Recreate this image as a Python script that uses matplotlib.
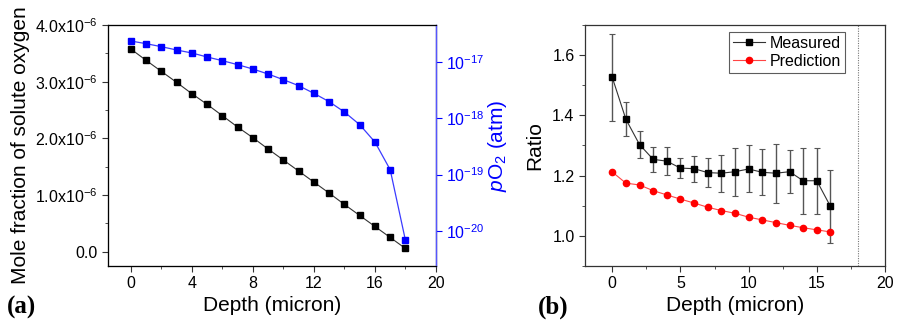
import matplotlib
matplotlib.use("Agg")
import matplotlib.pyplot as plt
from matplotlib.ticker import FixedLocator, FixedFormatter, NullLocator, MultipleLocator
import numpy as np

plt.rcParams['font.family'] = ['Liberation Sans', 'DejaVu Sans']
plt.rcParams['mathtext.fontset'] = 'custom'
plt.rcParams['mathtext.rm'] = 'Liberation Sans'
plt.rcParams['mathtext.it'] = 'Liberation Sans:italic'

# ---- data panel (a)
depth_a = list(range(0, 19))
mole_frac = [3.576, 3.376, 3.182, 2.988, 2.788, 2.600, 2.400, 2.200, 2.012, 1.812,
             1.618, 1.424, 1.229, 1.035, 0.835, 0.641, 0.447, 0.253, 0.059]  # x1e-6
log_po2 = [-16.634, -16.681, -16.734, -16.793, -16.846, -16.917, -16.982, -17.053,
           -17.130, -17.219, -17.319, -17.425, -17.561, -17.709, -17.892, -18.116,
           -18.424, -18.914, -20.166]
left_yticks = [0.0, 1.0e-6, 2.0e-6, 3.0e-6, 4.0e-6]
left_yticklabels = ['0.0', r'1.0x10$^{-6}$', r'2.0x10$^{-6}$', r'3.0x10$^{-6}$', r'4.0x10$^{-6}$']
right_yticks = [1e-20, 1e-19, 1e-18, 1e-17]
right_yticklabels = [r'10$^{-20}$', r'10$^{-19}$', r'10$^{-18}$', r'10$^{-17}$']
xticks_a = [0, 4, 8, 12, 16, 20]

# ---- data panel (b)
depth_b = list(range(0, 17))
measured = [1.526, 1.387, 1.303, 1.254, 1.248, 1.225, 1.223, 1.210, 1.208, 1.213,
            1.222, 1.211, 1.208, 1.213, 1.183, 1.183, 1.098]
measured_err = [0.144, 0.056, 0.045, 0.041, 0.047, 0.034, 0.043, 0.047, 0.061, 0.079,
                0.078, 0.076, 0.098, 0.071, 0.110, 0.110, 0.122]
prediction = [1.212, 1.175, 1.169, 1.150, 1.136, 1.122, 1.109, 1.095, 1.084, 1.075,
              1.062, 1.053, 1.044, 1.035, 1.027, 1.020, 1.013]
xticks_b = [0, 5, 10, 15, 20]
yticks_b = [1.0, 1.2, 1.4, 1.6]
boundary_depth = 18

fig = plt.figure(figsize=(9, 3.23), dpi=100)

tick_fs = 11.5
label_fs = 15

# ---------------- panel (a)
ax1 = fig.add_axes([0.12, 0.1765, 0.3644, 0.7461])
mf = np.array(mole_frac) * 1e-6
ax1.plot(depth_a, mf, color='#333333', lw=0.8, marker='s', ms=4.2,
         mfc='black', mec='black', zorder=3)
ax1.set_xlim(-1.5, 20)
ax1.set_ylim(-0.25e-6, 4.0e-6)
ax1.yaxis.set_major_locator(FixedLocator(left_yticks))
ax1.yaxis.set_major_formatter(FixedFormatter(left_yticklabels))
ax1.yaxis.set_minor_locator(MultipleLocator(0.5e-6))
ax1.xaxis.set_major_locator(FixedLocator(xticks_a))
ax1.xaxis.set_minor_locator(MultipleLocator(2))
ax1.tick_params(which='both', direction='out', labelsize=tick_fs, color='#333333')
ax1.tick_params(which='major', length=4)
ax1.tick_params(which='minor', length=2.5)
ax1.tick_params(axis='y', which='both', right=False)
ax1.set_xlabel('Depth (micron)', fontsize=label_fs, labelpad=3)
ax1.set_ylabel('Mole fraction of solute oxygen', fontsize=label_fs, labelpad=4)
for s in ax1.spines.values():
    s.set_color('#333333')
    s.set_linewidth(0.9)

ax2 = ax1.twinx()
po2 = 10.0 ** np.array(log_po2)
ax2.plot(depth_a, po2, color='#3b3bff', lw=0.9, marker='s', ms=4.2,
         mfc='#0000ff', mec='#0000ff', zorder=3)
ax2.set_yscale('log')
ax2.set_ylim(10 ** -20.62, 10 ** -16.35)
ax2.yaxis.set_major_locator(FixedLocator(right_yticks))
ax2.yaxis.set_major_formatter(FixedFormatter(right_yticklabels))
ax2.yaxis.set_minor_locator(NullLocator())
ax2.tick_params(axis='y', which='both', direction='out', labelsize=tick_fs,
                colors='#0000ff', length=4)
ax2.spines['right'].set_color('#5555ff')
ax2.spines['right'].set_linewidth(1.0)
ax2.set_ylabel(r'$p$O$_2$ (atm)', fontsize=label_fs, color='#0000ff', labelpad=1)

fig.text(0.008, 0.03, '(a)', fontsize=18, fontweight='bold',
         family=['Liberation Serif', 'DejaVu Serif'])

# ---------------- panel (b)
ax3 = fig.add_axes([0.65, 0.1765, 0.3333, 0.7461])
ax3.errorbar(depth_b, measured, yerr=measured_err, fmt='none', ecolor='#555555',
             elinewidth=1.0, capsize=2.5, capthick=0.8, zorder=2)
h_meas, = ax3.plot(depth_b, measured, color='#333333', lw=0.8, marker='s', ms=4.5,
                   mfc='black', mec='black', label='Measured', zorder=3)
h_pred, = ax3.plot(depth_b, prediction, color='#ff4444', lw=0.8, marker='o', ms=4.5,
                   mfc='#ff0000', mec='#ff0000', label='Prediction', zorder=3)
ax3.axvline(boundary_depth, color='#777777', lw=0.8, ls=(0, (1, 1.2)))
ax3.set_xlim(-2, 20)
ax3.set_ylim(0.9, 1.7)
ax3.xaxis.set_major_locator(FixedLocator(xticks_b))
ax3.xaxis.set_minor_locator(MultipleLocator(2.5))
ax3.yaxis.set_major_locator(FixedLocator(yticks_b))
ax3.yaxis.set_minor_locator(MultipleLocator(0.1))
ax3.yaxis.set_major_formatter(FixedFormatter(['1.0', '1.2', '1.4', '1.6']))
ax3.tick_params(which='both', direction='out', labelsize=tick_fs, color='#333333')
ax3.tick_params(which='major', length=4)
ax3.tick_params(which='minor', length=2.5)
ax3.set_xlabel('Depth (micron)', fontsize=label_fs, labelpad=3)
ax3.set_ylabel('Ratio', fontsize=label_fs, labelpad=6)
for s in ax3.spines.values():
    s.set_color('#333333')
    s.set_linewidth(0.9)
leg = ax3.legend(handles=[h_meas, h_pred], loc='upper right',
                 bbox_to_anchor=(0.878, 0.985), fontsize=11.5,
                 frameon=True, fancybox=False, edgecolor='#333333',
                 handlelength=2.0, handletextpad=0.3, borderpad=0.25,
                 labelspacing=0.2, borderaxespad=0.2)
leg.get_frame().set_linewidth(0.8)

fig.text(0.598, 0.03, '(b)', fontsize=18, fontweight='bold',
         family=['Liberation Serif', 'DejaVu Serif'])

fig.savefig('out.png', dpi=100)
